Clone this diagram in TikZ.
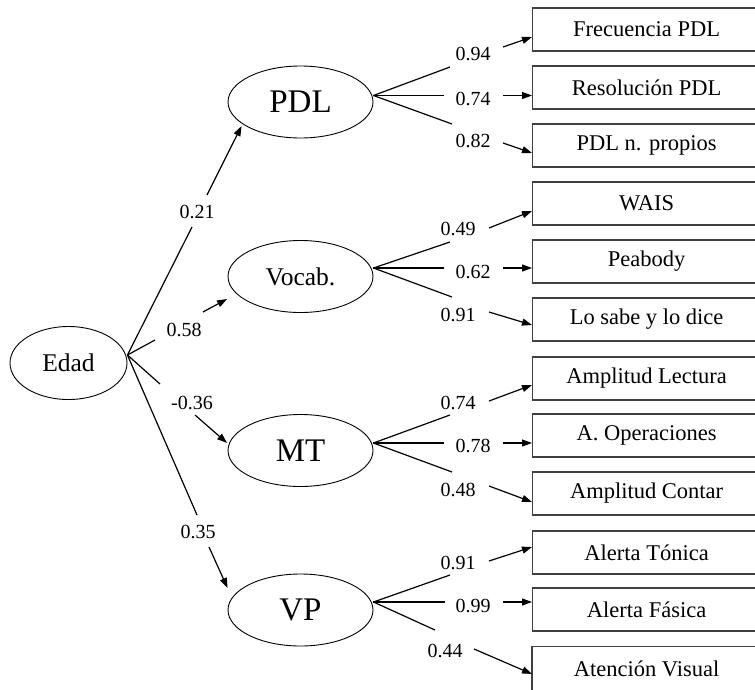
\documentclass[tikz,border=0pt]{standalone}
\usepackage{fontspec}
\setmainfont{Liberation Serif}
\usetikzlibrary{arrows.meta,shapes.geometric}
\begin{document}
\begin{tikzpicture}[x=1pt,y=-1pt,
  lat/.style={ellipse, draw, line width=0.9pt, minimum width=145pt, minimum height=72pt, inner sep=0pt, font=\fontsize{33}{36}\selectfont},
  latsm/.style={lat, font=\fontsize{25.5}{28}\selectfont},
  obs/.style={rectangle, draw=black!75, line width=1.2pt, minimum width=228pt, minimum height=43pt, inner sep=0pt, anchor=west, font=\fontsize{22.5}{25}\selectfont},
  obsline/.style={draw=black!75, line width=1.2pt},
  num/.style={inner sep=0pt, font=\fontsize{20}{22}\selectfont},
  ln/.style={line width=1.2pt},
  arr/.style={line width=1.2pt, -{Triangle[length=10pt,width=7pt]}}]
\useasboundingbox (0,0) rectangle (755,689);
\clip (0,0) rectangle (755,689);

% latent variables
\node[latsm, minimum width=117pt, minimum height=73pt] (E) at (68.5,363) {Edad};
\node[lat] (P) at (300.5,102) {PDL};
\node[latsm] (V) at (300.5,276.5) {Vocab.};
\node[lat] (M) at (300.5,450.5) {MT};
\node[lat] (VP) at (300.5,610) {VP};

% observed variables
\node[obs] (f1) at (532,29.5) {Frecuencia PDL};
\node[obs] (f2) at (532,87.5) {Resolución PDL};
\node[obs] (f3) at (532,145.5) {PDL n. propios};
\node[obs] (v1) at (532,203.5) {WAIS};
\node[obs] (v2) at (532,261.5) {Peabody};
\node[obs] (v3) at (532,319.5) {Lo sabe y lo dice};
\node[obs] (m1) at (532,378.5) {Amplitud Lectura};
\node[obs] (m2) at (532,435.5) {A. Operaciones};
\node[obs] (m3) at (532,493.5) {Amplitud Contar};
\node[obs] (p1) at (532,552.5) {Alerta Tónica};
\node[obs] (p2) at (532,609.5) {Alerta Fásica};
\node[obs, draw=none] (p3) at (532,668.5) {Atención Visual};
\draw[obsline] ([shift={(0,20)}]p3.south west) -- (p3.north west) -- (p3.north east) -- ([shift={(0,20)}]p3.south east);

% convergence points
\coordinate (Er) at ([shift={(0,-8)}]E.east);
\coordinate (Pr) at ([shift={(0,-6.5)}]P.east);
\coordinate (Vr) at ([shift={(0,-8.5)}]V.east);
\coordinate (Mr) at ([shift={(0,-7.5)}]M.east);
\coordinate (VPr) at ([shift={(0,-8)}]VP.east);

% Edad -> latents
\coordinate (eP1) at (192,227); \coordinate (eP2) at (207,195);
\draw[ln] (Er) -- (eP1);
\node[num] (nEP) at (197,212) {0.21};
\draw[arr] (eP2) -- ([shift={(14,24)}]P.west);

\coordinate (eV1) at (155,340); \coordinate (eV2) at (203,312);
\draw[ln] (Er) -- (eV1);
\node[num] (nEV) at (184,330) {0.58};
\draw[arr] (eV2) -- ([shift={(-0.5,22.5)}]V.west);

\coordinate (eM1) at (160,384); \coordinate (eM2) at (195,415);
\draw[ln] (Er) -- (eM1);
\node[num] (nEM) at (192,403) {-0.36};
\draw[arr] (eM2) -- ([shift={(-0.5,-7.5)}]M.west);

\coordinate (eVP1) at (197,515); \coordinate (eVP2) at (209,547);
\draw[ln] (Er) -- (eVP1);
\node[num] (nEVP) at (198,532) {0.35};
\draw[arr] (eVP2) -- ([shift={(0,-22)}]VP.west);

% PDL -> indicators
\coordinate (lf1) at (450,67); \coordinate (af1) at (503,47);
\draw[ln] (Pr) -- (lf1);
\node[num] (nf1) at (473,54) {0.94};
\draw[arr] (af1) -- ([shift={(0,7.5)}]f1.west);

\coordinate (lf2) at (444,95.5); \coordinate (af2) at (503,95.5);
\draw[ln] (Pr) -- (lf2);
\node[num] (nf2) at (473,98.5) {0.74};
\draw[arr] (af2) -- ([shift={(0,8)}]f2.west);

\coordinate (lf3) at (452,124); \coordinate (af3) at (503,143);
\draw[ln] (Pr) -- (lf3);
\node[num] (nf3) at (473,141) {0.82};
\draw[arr] (af3) -- ([shift={(0,7.5)}]f3.west);

% Vocab -> indicators
\coordinate (lv1) at (450,242); \coordinate (av1) at (489,228);
\draw[ln] (Vr) -- (lv1);
\node[num] (nv1) at (458,229) {0.49};
\draw[arr] (av1) -- ([shift={(0,7.5)}]v1.west);

\coordinate (lv2) at (444,268); \coordinate (av2) at (503,268);
\draw[ln] (Vr) -- (lv2);
\node[num] (nv2) at (473,272) {0.62};
\draw[arr] (av2) -- ([shift={(0,6.5)}]v2.west);

\coordinate (lv3) at (452,297); \coordinate (av3) at (489,312);
\draw[ln] (Vr) -- (lv3);
\node[num] (nv3) at (458,315) {0.91};
\draw[arr] (av3) -- ([shift={(0,5.5)}]v3.west);

% MT -> indicators
\coordinate (lm1) at (450,415); \coordinate (am1) at (489,401);
\draw[ln] (Mr) -- (lm1);
\node[num] (nm1) at (458,403) {0.74};
\draw[arr] (am1) -- ([shift={(0,6.5)}]m1.west);

\coordinate (lm2) at (444,443); \coordinate (am2) at (503,443);
\draw[ln] (Mr) -- (lm2);
\node[num] (nm2) at (473,446) {0.78};
\draw[arr] (am2) -- ([shift={(0,7.5)}]m2.west);

\coordinate (lm3) at (452,472); \coordinate (am3) at (489,486);
\draw[ln] (Mr) -- (lm3);
\node[num] (nm3) at (458,490) {0.48};
\draw[arr] (am3) -- ([shift={(0,8.5)}]m3.west);

% VP -> indicators
\coordinate (lp1) at (450,575); \coordinate (ap1) at (489,561);
\draw[ln] (VPr) -- (lp1);
\node[num] (np1) at (458,563) {0.91};
\draw[arr] (ap1) -- ([shift={(0,-5.5)}]p1.west);

\coordinate (lp2) at (445,602); \coordinate (ap2) at (503,602);
\draw[ln] (VPr) -- (lp2);
\node[num] (np2) at (473,606) {0.99};
\draw[arr] (ap2) -- ([shift={(0,-7.5)}]p2.west);

\coordinate (lp3) at (435,630); \coordinate (ap3) at (474,649);
\draw[ln] (VPr) -- (lp3);
\node[num] (np3) at (445,651) {0.44};
\draw[arr] (ap3) -- ([shift={(0,5.5)}]p3.west);
\end{tikzpicture}
\end{document}
